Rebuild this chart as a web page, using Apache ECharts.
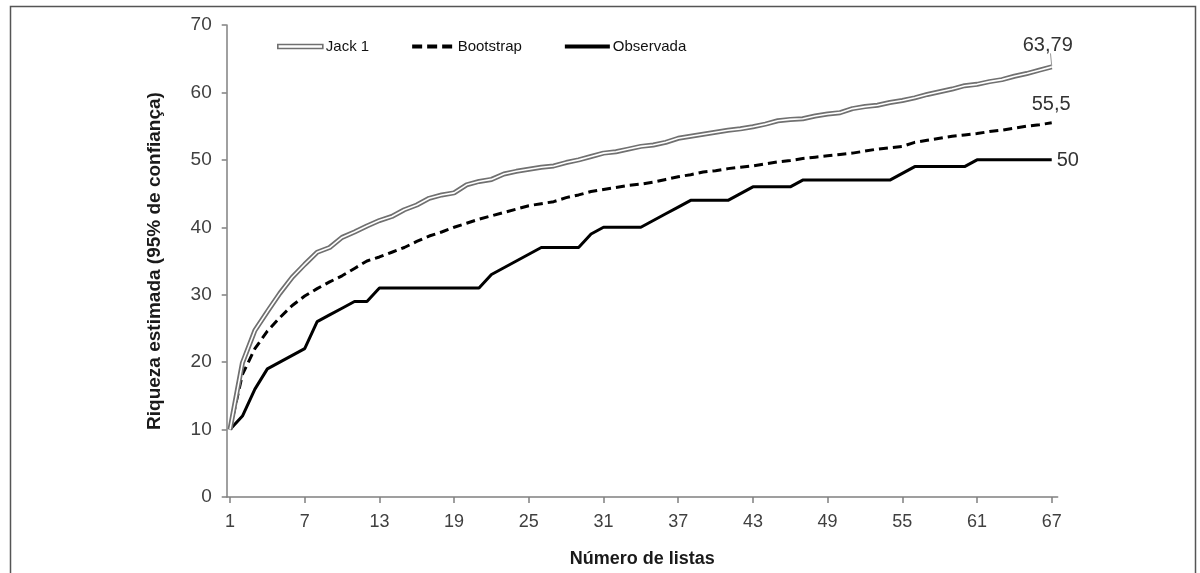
<!DOCTYPE html>
<html>
<head>
<meta charset="utf-8">
<script src="https://cdn.jsdelivr.net/npm/echarts@6/dist/echarts.min.js"></script>
<style>
html,body{margin:0;padding:0;background:#fff;}
#chart{width:1200px;height:573px;}
</style>
</head>
<body>
<div id="chart"></div>
<script>
// ---- data ----
const xTickLabels = [1, 7, 13, 19, 25, 31, 37, 43, 49, 55, 61, 67];
const jack1 = [10, 19.9, 24.7, 27.5, 30.2, 32.6, 34.5, 36.3, 37.0, 38.5,
  39.3, 40.2, 41.0, 41.6, 42.6, 43.3, 44.3, 44.8, 45.1, 46.3,
  46.8, 47.1, 47.9, 48.3, 48.6, 48.9, 49.1, 49.6, 50.0, 50.5,
  51.0, 51.2, 51.6, 52.0, 52.2, 52.6, 53.2, 53.5, 53.8, 54.1,
  54.4, 54.6, 54.9, 55.3, 55.8, 56.0, 56.1, 56.5, 56.8, 57.0,
  57.6, 57.9, 58.1, 58.5, 58.8, 59.2, 59.7, 60.1, 60.5, 61.0,
  61.2, 61.6, 61.9, 62.4, 62.8, 63.3, 63.79];
const bootstrap = [10, 18.2, 22.0, 24.6, 26.6, 28.4, 29.8, 30.9, 31.9, 32.8,
  33.9, 35.0, 35.6, 36.3, 37.0, 37.9, 38.7, 39.3, 40.0, 40.6,
  41.2, 41.7, 42.2, 42.7, 43.2, 43.5, 43.8, 44.4, 44.8, 45.3,
  45.6, 45.9, 46.2, 46.4, 46.7, 47.1, 47.5, 47.8, 48.2, 48.4,
  48.7, 48.9, 49.1, 49.4, 49.7, 49.9, 50.2, 50.4, 50.6, 50.8,
  51.0, 51.3, 51.6, 51.8, 52.0, 52.6, 52.9, 53.2, 53.5, 53.7,
  53.9, 54.2, 54.4, 54.7, 55.0, 55.2, 55.5];
const observada = [10, 12, 16, 19, 20, 21, 22, 26, 27, 28,
  29, 29, 31, 31, 31, 31, 31, 31, 31, 31,
  31, 33, 34, 35, 36, 37, 37, 37, 37, 39,
  40, 40, 40, 40, 41, 42, 43, 44, 44, 44,
  44, 45, 46, 46, 46, 46, 47, 47, 47, 47,
  47, 47, 47, 47, 48, 49, 49, 49, 49, 49,
  50, 50, 50, 50, 50, 50, 50];
const seriesNames = ['Jack 1', 'Bootstrap', 'Observada'];
const xName = 'Número de listas';
const yName = 'Riqueza estimada (95% de confiança)';

// ---- build ----
const toPts = arr => arr.map((v, i) => [i + 1, v]);
const fmt = v => String(v).replace('.', ',');
const FONT = '"Liberation Sans", Arial, sans-serif';
const nLast = jack1.length;
const jackLast = jack1[nLast - 1];

const chart = echarts.init(document.getElementById('chart'), null, {renderer: 'canvas'});
chart.setOption({
  animation: false,
  backgroundColor: '#fff',
  graphic: [{
    type: 'rect', left: 8, top: 4, silent: true,
    shape: {width: 1185, height: 620},
    style: {fill: 'none', stroke: '#555', lineWidth: 1.5}
  }],
  grid: {left: 226.7, right: 142.3, top: 25, bottom: 69},
  legend: {
    left: 272, top: 34, itemWidth: 45, itemHeight: 4, itemGap: 43,
    textStyle: {fontFamily: FONT, fontSize: 15, color: '#111', padding: [0, 0, 0, -2]},
    data: [
      {name: seriesNames[0], icon: 'rect', itemStyle: {color: '#fff', borderColor: '#707070', borderWidth: 1.6}},
      {name: seriesNames[1], icon: 'path://M0,0h10v4h-10z M15,0h10v4h-10z M30,0h10v4h-10z', itemStyle: {color: '#000'}},
      {name: seriesNames[2], icon: 'rect', itemStyle: {color: '#000'}}
    ]
  },
  xAxis: {
    type: 'value', min: 0.735, max: 67.48,
    name: xName, nameLocation: 'middle', nameGap: 53,
    nameTextStyle: {fontFamily: FONT, fontSize: 18, fontWeight: 'bold', color: '#1a1a1a'},
    axisLine: {show: true, lineStyle: {color: '#808080', width: 1.5}},
    axisTick: {show: true, length: 6, lineStyle: {color: '#808080', width: 1.5}, customValues: xTickLabels},
    axisLabel: {customValues: xTickLabels, fontFamily: FONT, fontSize: 18, color: '#404040', margin: 16},
    splitLine: {show: false}
  },
  yAxis: {
    type: 'value', min: 0, max: 70, interval: 10,
    name: yName, nameLocation: 'middle', nameGap: 62, nameRotate: 90,
    nameTextStyle: {fontFamily: FONT, fontSize: 19, fontWeight: 'bold', color: '#1a1a1a'},
    axisLine: {show: true, lineStyle: {color: '#808080', width: 1.5}},
    axisTick: {show: true, length: 5, lineStyle: {color: '#808080', width: 1.5}},
    axisLabel: {fontFamily: FONT, fontSize: 19, color: '#404040', margin: 15},
    splitLine: {show: false}
  },
  series: [
    {
      name: seriesNames[2], type: 'line', data: toPts(observada), showSymbol: false, z: 3,
      lineStyle: {color: '#000', width: 3}, itemStyle: {color: '#000'},
      endLabel: {show: true, formatter: () => fmt(observada[observada.length - 1]),
        fontFamily: FONT, fontSize: 20, color: '#333', distance: 5, offset: [0, 1]}
    },
    {
      name: seriesNames[1], type: 'line', data: toPts(bootstrap), showSymbol: false, z: 4,
      lineStyle: {color: '#000', width: 3, type: [9, 5]}, itemStyle: {color: '#000'},
      endLabel: {show: true, formatter: () => fmt(bootstrap[bootstrap.length - 1]),
        fontFamily: FONT, fontSize: 20, color: '#333', distance: 5, offset: [-25, -18]}
    },
    {
      name: seriesNames[0], type: 'line', data: toPts(jack1), showSymbol: false, z: 5,
      lineStyle: {color: '#707070', width: 5}, itemStyle: {color: '#707070'},
      endLabel: {show: true, formatter: () => fmt(jackLast),
        fontFamily: FONT, fontSize: 20, color: '#333', distance: 5, offset: [-34, -21]},
      markLine: {
        silent: true, symbol: 'none', animation: false,
        label: {show: false},
        lineStyle: {color: '#999', width: 1, type: 'solid'},
        data: [[{coord: [nLast, jackLast + 0.15]}, {coord: [nLast - 0.1, jackLast + 2.0]}]]
      }
    },
    {
      name: seriesNames[0], type: 'line', data: toPts(jack1), showSymbol: false, z: 6,
      lineStyle: {color: '#ffffff', width: 1.6}, itemStyle: {color: '#fff'}
    }
  ]
});
</script>
</body>
</html>
